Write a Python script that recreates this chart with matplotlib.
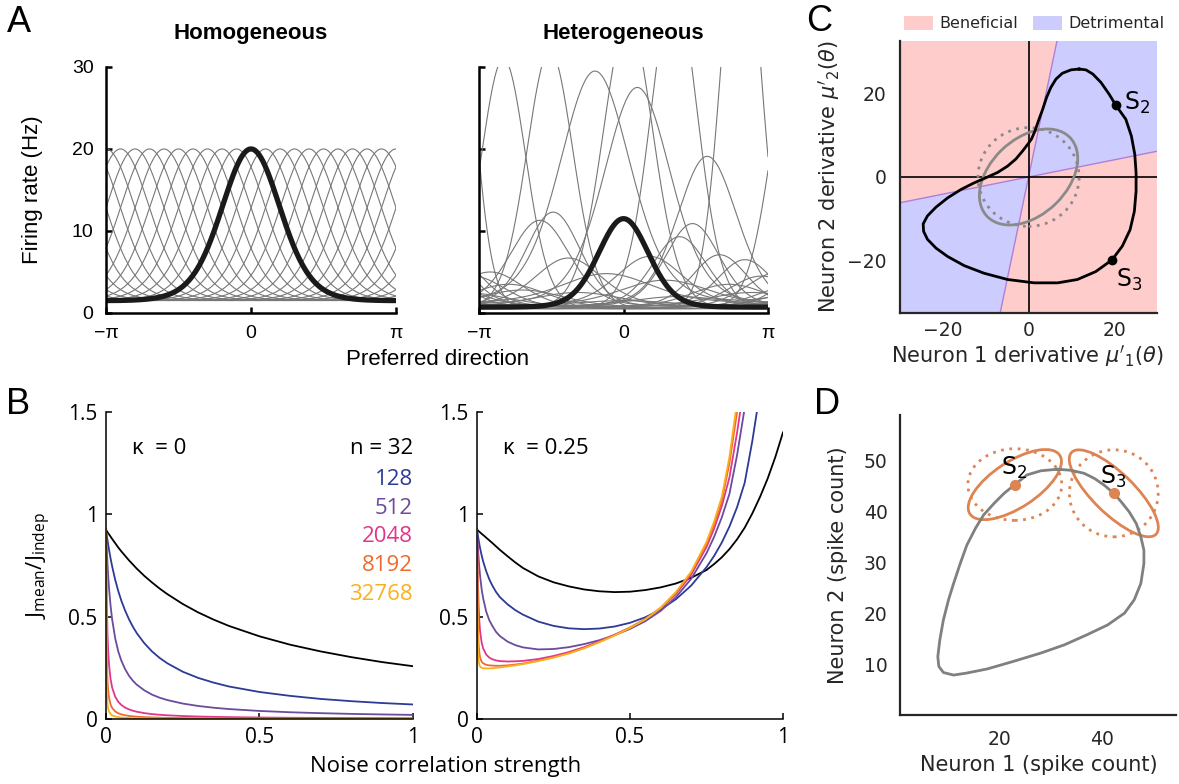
import numpy as np
import matplotlib
matplotlib.use("Agg")
import matplotlib.pyplot as plt
from matplotlib.patches import Ellipse, Polygon, Patch

plt.rcParams['mathtext.fontset'] = 'dejavusans'
plt.rcParams['mathtext.rm'] = 'Open Sans'

# ---------------- panel A : tuning curve parameters
hom_pref = [-3.142, -2.827, -2.513, -2.199, -1.885, -1.571, -1.257, -0.942, -0.628, -0.314,
            0.0, 0.314, 0.628, 0.942, 1.257, 1.571, 1.885, 2.199, 2.513, 2.827]
hom_peak, hom_base, hom_kappa = 20.0, 1.4, 2.55

het_pref = [-2.61, -1.60, 0.10, 1.10, 2.55, -0.62, 0.30, 1.82, -1.53, -1.82, 1.50, 1.22, -1.20,
            0.57, 2.09, 2.64, -0.37, -2.90, 3.00, -2.50, 2.30, 0.90, -1.00, 1.20, -2.20, 0.00, 2.80]
het_peak = [31.0, 32.0, 36.0, 40.0, 52.0, 29.5, 27.5, 19.1, 12.3, 11.3, 10.9, 9.3, 6.7,
            6.9, 7.1, 6.5, 4.8, 5.0, 4.5, 3.5, 3.5, 4.0, 2.5, 2.0, 2.8, 1.5, 2.5]
het_kappa = [4.3, 4.0, 3.5, 4.0, 6.0, 1.8, 2.0, 2.5, 3.0, 2.5, 3.0, 3.0, 2.0,
             2.0, 3.0, 3.0, 1.0, 2.0, 2.0, 1.5, 1.5, 1.0, 1.0, 0.8, 1.2, 0.5, 1.0]
het_base = [0.5, 0.5, 0.5, 0.5, 0.5, 0.8, 0.8, 0.8, 0.8, 0.8, 0.8, 0.8, 0.8,
            0.8, 0.8, 0.8, 0.8, 0.5, 0.5, 0.5, 0.5, 0.5, 0.5, 0.5, 0.5, 0.3, 0.5]
het_mean_peak, het_mean_base, het_mean_kappa = 11.5, 0.7, 3.45

# ---------------- panel B : Jmean/Jindep vs noise correlation
n_labels = ['n = 32', '128', '512', '2048', '8192', '32768']
n_colors = ['#000000', '#2d3a96', '#6a4b9e', '#e0368b', '#ef6a2c', '#f8b11e']

# kappa = 0
corr_k0 = [0, 0.0025, 0.005, 0.0075, 0.01, 0.015, 0.02, 0.03, 0.04, 0.05, 0.0625, 0.075, 0.0875, 0.1,
           0.125, 0.15, 0.175, 0.2, 0.25, 0.3, 0.35, 0.4, 0.5, 0.6, 0.7, 0.8, 0.9, 1.0]
k0_n32 = [0.925, 0.919, 0.913, 0.907, 0.902, 0.891, 0.880, 0.859, 0.838, 0.819, 0.797, 0.775, 0.755, 0.735,
          0.699, 0.667, 0.637, 0.610, 0.562, 0.521, 0.486, 0.455, 0.404, 0.363, 0.330, 0.302, 0.278, 0.258]
k0_n128 = [0.925, 0.898, 0.873, 0.849, 0.826, 0.784, 0.746, 0.680, 0.625, 0.578, 0.529, 0.487, 0.451, 0.420,
           0.370, 0.330, 0.298, 0.272, 0.231, 0.201, 0.178, 0.159, 0.132, 0.113, 0.098, 0.087, 0.078, 0.071]
k0_n512 = [0.925, 0.831, 0.755, 0.692, 0.638, 0.552, 0.487, 0.394, 0.330, 0.285, 0.243, 0.211, 0.187, 0.168,
           0.140, 0.119, 0.104, 0.0925, 0.0755, 0.0638, 0.0552, 0.0487, 0.0394, 0.033, 0.0285, 0.025, 0.0223, 0.0201]
k0_n2048 = [0.925, 0.569, 0.411, 0.322, 0.264, 0.195, 0.154, 0.109, 0.084, 0.0685, 0.0556, 0.0468, 0.0404, 0.0356,
            0.0287, 0.024, 0.0207, 0.0181, 0.0146, 0.0122, 0.0105, 0.0092, 0.0073, 0.0061, 0.0053, 0.0046, 0.0041, 0.0037]
k0_n8192 = [0.925, 0.308, 0.185, 0.132, 0.103, 0.071, 0.054, 0.037, 0.028, 0.0226, 0.0181, 0.0152, 0.013, 0.0114,
            0.0092, 0.0076, 0.0066, 0.0057, 0.0046, 0.0038, 0.0033, 0.0029, 0.0023, 0.0019, 0.0017, 0.0014, 0.0013, 0.0012]
k0_n32768 = [0.925, 0.128, 0.0685, 0.0468, 0.0356, 0.024, 0.0181, 0.0122, 0.0092, 0.0073, 0.0059, 0.0049, 0.0042, 0.0037,
             0.003, 0.0025, 0.0021, 0.0018, 0.0015, 0.0012, 0.0011, 0.0009, 0.0007, 0.0006, 0.0005, 0.0005, 0.0004, 0.0004]

# kappa = 0.25
corr_k25 = [0, 0.0025, 0.005, 0.0075, 0.01, 0.015, 0.02, 0.03, 0.04, 0.05, 0.0625, 0.075, 0.1, 0.125, 0.15,
            0.2, 0.25, 0.3, 0.35, 0.4, 0.45, 0.5, 0.55, 0.6, 0.65, 0.7, 0.75, 0.775, 0.8, 0.825, 0.85, 0.875,
            0.9, 0.925, 0.95, 0.975, 1.0]
k25_n32 = [0.925, 0.922, 0.918, 0.915, 0.912, 0.905, 0.899, 0.886, 0.873, 0.860, 0.843, 0.826, 0.795, 0.765, 0.738,
           0.697, 0.668, 0.648, 0.633, 0.624, 0.620, 0.622, 0.630, 0.643, 0.662, 0.690, 0.728, 0.757, 0.790, 0.830,
           0.878, 0.935, 1.005, 1.085, 1.175, 1.280, 1.400]
k25_n128 = [0.925, 0.900, 0.877, 0.855, 0.835, 0.800, 0.770, 0.722, 0.683, 0.652, 0.620, 0.595, 0.560, 0.532, 0.510,
            0.476, 0.455, 0.443, 0.439, 0.442, 0.452, 0.470, 0.497, 0.535, 0.585, 0.652, 0.742, 0.797, 0.862, 0.940,
            1.035, 1.155, 1.360, 1.600, 1.900, 2.300, 2.800]
k25_n512 = [0.925, 0.850, 0.790, 0.740, 0.700, 0.635, 0.590, 0.525, 0.483, 0.455, 0.425, 0.405, 0.378, 0.361, 0.350,
            0.340, 0.342, 0.351, 0.366, 0.385, 0.410, 0.440, 0.478, 0.528, 0.595, 0.685, 0.810, 0.890, 0.985, 1.100,
            1.290, 1.520, 1.800, 2.150, 2.650, 3.300, 4.200]
k25_n2048 = [0.925, 0.700, 0.560, 0.480, 0.430, 0.375, 0.345, 0.315, 0.300, 0.292, 0.286, 0.283, 0.281, 0.282, 0.284,
             0.293, 0.308, 0.327, 0.351, 0.380, 0.412, 0.447, 0.488, 0.540, 0.610, 0.705, 0.840, 0.930, 1.040, 1.180,
             1.400, 1.650, 1.950, 2.400, 3.000, 3.800, 4.800]
k25_n8192 = [0.925, 0.480, 0.370, 0.325, 0.300, 0.280, 0.272, 0.265, 0.262, 0.261, 0.260, 0.260, 0.262, 0.266, 0.271,
             0.285, 0.302, 0.322, 0.347, 0.377, 0.410, 0.446, 0.488, 0.543, 0.617, 0.715, 0.855, 0.950, 1.065, 1.250,
             1.500, 1.750, 2.050, 2.500, 3.100, 4.000, 5.000]
k25_n32768 = [0.925, 0.380, 0.290, 0.265, 0.256, 0.250, 0.248, 0.247, 0.247, 0.248, 0.250, 0.252, 0.257, 0.262, 0.268,
              0.283, 0.300, 0.320, 0.345, 0.375, 0.408, 0.445, 0.487, 0.543, 0.620, 0.720, 0.865, 0.965, 1.085, 1.280,
              1.550, 1.800, 2.150, 2.600, 3.200, 4.100, 5.100]

# ---------------- panel C : derivative space
slope_shallow, slope_steep = 0.205, 4.9
c_loop_x = [11.8, 9.9, 7.9, 6.4, 5.2, 4.2, 3.3, 2.3, 1.5, 0.7, -0.2, -1.4, -2.96, -4.9, -7.2, -10.0, -12.7,
            -15.8, -18.9, -21.6, -23.6, -24.6, -24.5, -23.6, -21.6, -18.9, -15.0, -10.4, -4.9, 1.3, 6.8, 11.4,
            15.7, 19.5, 21.9, 23.7, 24.7, 25.1, 25.1, 24.8, 24.0, 22.7, 20.4, 18.8, 16.9, 15.0, 13.4, 11.8]
c_loop_y = [25.8, 25.6, 24.8, 23.4, 21.4, 19.0, 16.2, 13.4, 11.0, 9.1, 7.8, 6.2, 4.3, 2.6, 1.1, -0.2, -1.4,
            -3.0, -5.0, -7.2, -9.3, -11.2, -13.0, -14.9, -17.0, -19.0, -21.2, -23.0, -24.5, -25.3, -25.3, -24.5,
            -22.6, -19.8, -16.5, -12.6, -8.2, -3.4, 1.0, 5.4, 9.8, 13.8, 17.1, 19.8, 22.6, 24.6, 25.6, 25.8]
c_s2 = (20.4, 17.1)
c_s3 = (19.5, -19.8)
c_cov_axes = (13.5, 9.0, 45)     # semi-axes and angle of correlated noise ellipse
c_indep_radius = 11.8

# ---------------- panel D : spike count space
d_loop_x = [31.3, 28.1, 25.4, 23.0, 20.9, 18.9, 16.9, 15.3, 13.6, 12.3, 11.0, 10.0, 9.0, 8.3, 7.9, 8.1, 9.0,
            11.0, 13.6, 17.6, 22.8, 28.1, 32.7, 37.2, 41.2, 44.5, 46.4, 47.7, 48.3, 48.3, 47.7, 46.8, 45.4,
            43.8, 42.4, 40.5, 38.6, 36.6, 34.0, 31.3]
d_loop_y = [48.2, 47.9, 47.1, 45.2, 43.5, 41.5, 39.3, 36.7, 33.4, 29.8, 25.9, 22.7, 18.8, 14.9, 11.6, 9.7, 8.5,
            8.0, 8.4, 9.2, 10.7, 12.3, 13.9, 15.9, 17.8, 20.1, 22.7, 25.9, 29.8, 32.4, 35.0, 37.6, 39.9,
            41.9, 43.5, 45.1, 46.4, 47.4, 48.0, 48.2]
d_s2 = (23.0, 45.2)
d_s3 = (42.4, 43.5)
d_s2_ell = (10.5, 4.5, 33)
d_s3_ell = (11.5, 4.0, -44)
d_s2_ind = (9.2, 7.0)
d_s3_ind = (8.7, 8.5)

GRAY_A = '#777777'
ORANGE = '#dd8452'
DARK = '#262626'

fig = plt.figure(figsize=(11.79, 7.84), dpi=100)

theta = np.linspace(-np.pi, np.pi, 600)


def vonmises(pref, peak, kappa, base):
    return base + (peak - base) * np.exp(kappa * (np.cos(theta - pref) - 1))


def matlab_style(ax, lw, fs, pad, family):
    for s in ['top', 'right']:
        ax.spines[s].set_visible(False)
    for s in ['left', 'bottom']:
        ax.spines[s].set_linewidth(lw)
    ax.tick_params(direction='in', length=4, width=lw, labelsize=fs, pad=pad)
    for lab in ax.get_xticklabels() + ax.get_yticklabels():
        lab.set_family(family)


# ---- A left
axA1 = fig.add_axes([0.0899, 0.6008, 0.246, 0.3138])
for p in hom_pref:
    axA1.plot(theta, vonmises(p, hom_peak, hom_kappa, hom_base), color=GRAY_A, lw=0.8)
axA1.plot(theta, vonmises(0.0, hom_peak, hom_kappa, hom_base), color='#1a1a1a', lw=3.8)
axA1.set_xlim(-np.pi, np.pi)
axA1.set_ylim(0, 30)
axA1.set_xticks([-np.pi, 0, np.pi])
axA1.set_xticklabels(['\u2212\u03c0', '0', '\u03c0'])
axA1.set_yticks([0, 10, 20, 30])
matlab_style(axA1, 1.8, 14, 9, 'Liberation Sans')
axA1.set_ylabel('Firing rate (Hz)', fontsize=16, family='Liberation Sans')
axA1.yaxis.set_label_coords(-0.217, 0.5)
axA1.text(0.5, 1.138, 'Homogeneous', transform=axA1.transAxes, ha='center', va='center',
          fontsize=16, fontweight='bold', family='Liberation Sans')

# ---- A right
axA2 = fig.add_axes([0.4063, 0.6008, 0.2451, 0.3138])
for p, pk, kp, b in zip(het_pref, het_peak, het_kappa, het_base):
    axA2.plot(theta, vonmises(p, pk, kp, b), color=GRAY_A, lw=0.8)
axA2.plot(theta, vonmises(0.0, het_mean_peak, het_mean_kappa, het_mean_base), color='#1a1a1a', lw=3.8)
axA2.set_xlim(-np.pi, np.pi)
axA2.set_ylim(0, 30)
axA2.set_xticks([-np.pi, 0, np.pi])
axA2.set_xticklabels(['\u2212\u03c0', '0', '\u03c0'])
axA2.set_yticks([0, 10, 20, 30])
axA2.set_yticklabels([])
matlab_style(axA2, 1.8, 14, 9, 'Liberation Sans')
axA2.text(0.5, 1.138, 'Heterogeneous', transform=axA2.transAxes, ha='center', va='center',
          fontsize=16, fontweight='bold', family='Liberation Sans')
fig.text(0.3715, 0.541, 'Preferred direction', ha='center', va='center', fontsize=16,
         family='Liberation Sans')

# ---- B
k0_curves = [k0_n32, k0_n128, k0_n512, k0_n2048, k0_n8192, k0_n32768]
k25_curves = [k25_n32, k25_n128, k25_n512, k25_n2048, k25_n8192, k25_n32768]
legend_y = [1.32, 1.17, 1.03, 0.89, 0.75, 0.61]

axB1 = fig.add_axes([0.0899, 0.0829, 0.2604, 0.3916])
axB2 = fig.add_axes([0.4046, 0.0829, 0.2595, 0.3916])
for ax, xs, curves, label in [(axB1, corr_k0, k0_curves, '\u03ba  = 0'),
                              (axB2, corr_k25, k25_curves, '\u03ba  = 0.25')]:
    for vals, col in zip(curves, n_colors):
        ax.plot(xs, vals, color=col, lw=1.3)
    ax.set_xlim(0, 1)
    ax.set_ylim(0, 1.5)
    ax.set_xticks([0, 0.5, 1])
    ax.set_xticklabels(['0', '0.5', '1'])
    ax.set_yticks([0, 0.5, 1, 1.5])
    ax.set_yticklabels(['0', '0.5', '1', '1.5'])
    matlab_style(ax, 1.1, 15, 6, 'Open Sans')
    ax.text(0.085, 1.32, label, ha='left', va='center', fontsize=16, family='Open Sans')
for lab, col, yy in zip(n_labels, n_colors, legend_y):
    axB1.text(1.0, yy, lab, ha='right', va='center', fontsize=16, color=col, family='Open Sans')
axB1.set_ylabel(r'$\mathrm{J_{mean}/J_{indep}}$', fontsize=16, math_fontfamily='custom')
axB1.yaxis.set_label_coords(-0.173, 0.5)
fig.text(0.378, 0.0217, 'Noise correlation strength', ha='center', va='center', fontsize=16,
         family='Open Sans')

# ---- C
axC = fig.add_axes([0.7634, 0.6008, 0.218, 0.3469])
xl, yl = (-30, 30), (-32.5, 32.5)
axC.set_facecolor((1.0, 0.8, 0.8))
blue_fill = (0.8, 0.8, 1.0)
axC.add_patch(Polygon([(0, 0), (xl[1], slope_shallow * xl[1]), (xl[1], yl[1]), (yl[1] / slope_steep, yl[1])],
                      closed=True, facecolor=blue_fill, edgecolor='none', zorder=0))
axC.add_patch(Polygon([(0, 0), (xl[0], slope_shallow * xl[0]), (xl[0], yl[0]), (yl[0] / slope_steep, yl[0])],
                      closed=True, facecolor=blue_fill, edgecolor='none', zorder=0))
axC.plot([xl[0], xl[1]], [slope_shallow * xl[0], slope_shallow * xl[1]], color='#b07fd8', lw=1.0, zorder=1)
axC.plot([yl[0] / slope_steep, yl[1] / slope_steep], [yl[0], yl[1]], color='#b07fd8', lw=1.0, zorder=1)
axC.axhline(0, color='black', lw=1.2, zorder=2)
axC.axvline(0, color='black', lw=1.2, zorder=2)
axC.add_patch(Ellipse((0, 0), 2 * c_cov_axes[0], 2 * c_cov_axes[1], angle=c_cov_axes[2],
                      facecolor='none', edgecolor='#8a8a8a', lw=2.0, zorder=3))
axC.add_patch(Ellipse((0, 0), 2 * c_indep_radius, 2 * c_indep_radius, facecolor='none',
                      edgecolor='#8a8a8a', lw=2.0, ls=(0, (1, 2)), zorder=3))
axC.plot(c_loop_x, c_loop_y, color='black', lw=2.0, zorder=4, solid_joinstyle='round')
axC.plot([c_s2[0], c_s3[0]], [c_s2[1], c_s3[1]], 'o', color='black', ms=6, zorder=5)
axC.text(22.2, 17.8, r'S$_2$', fontsize=17, ha='left', va='center', color='black', zorder=6)
axC.text(20.4, -24.6, r'S$_3$', fontsize=17, ha='left', va='center', color='black', zorder=6)
axC.set_xlim(*xl)
axC.set_ylim(*yl)
axC.set_xticks([-20, 0, 20])
axC.set_yticks([-20, 0, 20])
for s in ['top', 'right']:
    axC.spines[s].set_visible(False)
for s in ['left', 'bottom']:
    axC.spines[s].set_linewidth(1.6)
    axC.spines[s].set_color(DARK)
    axC.spines[s].set_zorder(7)
axC.tick_params(length=0, labelsize=13.5, labelcolor=DARK)
axC.tick_params(axis='y', pad=10)
axC.tick_params(axis='x', pad=6)
axC.set_xlabel(r"Neuron 1 derivative $\mu'_1(\theta)$", fontsize=15, color=DARK)
axC.set_ylabel(r"Neuron 2 derivative $\mu'_2(\theta)$", fontsize=15, color=DARK)
axC.xaxis.set_label_coords(0.494, -0.110)
axC.yaxis.set_label_coords(-0.226, 0.5)
axC.legend(handles=[Patch(facecolor=(1.0, 0.8, 0.8)), Patch(facecolor=blue_fill)],
           labels=['Beneficial', 'Detrimental'], loc='lower left', bbox_to_anchor=(-0.02, 1.0),
           ncol=2, frameon=False, fontsize=11.5, handlelength=1.8, handleheight=0.95,
           handletextpad=0.4, columnspacing=0.9, borderaxespad=0.2, labelcolor=DARK)

# ---- D
axD = fig.add_axes([0.7634, 0.088, 0.2341, 0.3827])
axD.plot(d_loop_x, d_loop_y, color='#808080', lw=2.0, solid_joinstyle='round')
for c, ell, ind in [(d_s2, d_s2_ell, d_s2_ind), (d_s3, d_s3_ell, d_s3_ind)]:
    axD.add_patch(Ellipse(c, 2 * ell[0], 2 * ell[1], angle=ell[2], facecolor='none',
                          edgecolor=ORANGE, lw=2.0))
    axD.add_patch(Ellipse(c, 2 * ind[0], 2 * ind[1], facecolor='none', edgecolor=ORANGE,
                          lw=2.0, ls=(0, (1, 2))))
axD.plot([d_s2[0], d_s3[0]], [d_s2[1], d_s3[1]], 'o', color=ORANGE, ms=7)
axD.text(20.2, 48.4, r'S$_2$', fontsize=17, ha='left', va='center', color='black')
axD.text(39.7, 46.7, r'S$_3$', fontsize=17, ha='left', va='center', color='black')
axD.set_xlim(0.5, 54.6)
axD.set_ylim(0.2, 58.8)
axD.set_xticks([20, 40])
axD.set_yticks([10, 20, 30, 40, 50])
for s in ['top', 'right']:
    axD.spines[s].set_visible(False)
for s in ['left', 'bottom']:
    axD.spines[s].set_linewidth(1.6)
    axD.spines[s].set_color(DARK)
axD.tick_params(length=0, labelsize=13.5, labelcolor=DARK)
axD.tick_params(axis='y', pad=9)
axD.tick_params(axis='x', pad=11)
axD.set_xlabel('Neuron 1 (spike count)', fontsize=15, color=DARK)
axD.set_ylabel('Neuron 2 (spike count)', fontsize=15, color=DARK)
axD.xaxis.set_label_coords(0.503, -0.133)
axD.yaxis.set_label_coords(-0.188, 0.5)

# ---- panel letters
for x, y, s in [(0.006, 0.993, 'A'), (0.005, 0.506, 'B'), (0.684, 0.995, 'C'), (0.690, 0.506, 'D')]:
    fig.text(x, y, s, fontsize=26, ha='left', va='top', family='Liberation Sans')

fig.savefig('out.png', dpi=100)
